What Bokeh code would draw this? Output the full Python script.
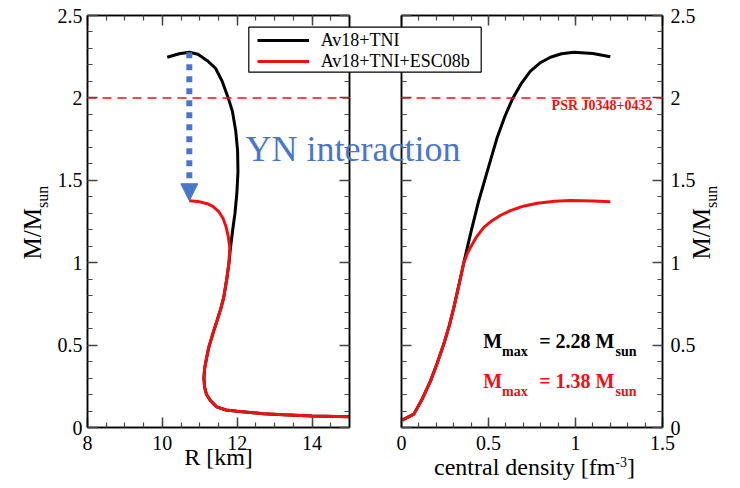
import numpy as np
from bokeh.plotting import figure
from bokeh.models import (Range1d, LinearAxis, FixedTicker, CustomJSTickFormatter, Span,
                          Label, Legend, LegendItem, Arrow, NormalHead, GridBox, BoxAnnotation)
from bokeh.embed import file_html
from bokeh.resources import INLINE

# ---------------- data ----------------
# Left panel: mass (M_sun) vs radius (km)
r_nuc = [15.0, 14.0, 13.24, 12.7, 12.35, 12.0, 11.7, 11.45, 11.29, 11.18,
         11.13, 11.11, 11.13, 11.18, 11.24, 11.35, 11.46, 11.56, 11.64, 11.72,
         11.78, 11.82, 11.88, 11.94, 11.99, 12.02, 12.01, 11.96, 11.87, 11.76,
         11.6, 11.42, 11.2, 10.95, 10.72, 10.45, 10.13]
m_nuc_r = [0.065, 0.070, 0.077, 0.084, 0.091, 0.098, 0.106, 0.125, 0.162, 0.200,
           0.243, 0.300, 0.360, 0.420, 0.486, 0.570, 0.648, 0.720, 0.790, 0.900,
           1.000, 1.090, 1.200, 1.300, 1.420, 1.550, 1.680, 1.800, 1.920, 2.000,
           2.100, 2.180, 2.226, 2.265, 2.277, 2.268, 2.247]
r_hyp = [15.0, 14.0, 13.24, 12.7, 12.35, 12.0, 11.7, 11.45, 11.29, 11.18,
         11.13, 11.11, 11.13, 11.18, 11.24, 11.35, 11.46, 11.56, 11.64, 11.72,
         11.78, 11.80, 11.76, 11.70, 11.62, 11.50, 11.35, 11.20, 10.95, 10.72]
m_hyp_r = [0.065, 0.070, 0.077, 0.084, 0.091, 0.098, 0.106, 0.125, 0.162, 0.200,
           0.243, 0.300, 0.360, 0.420, 0.486, 0.570, 0.648, 0.720, 0.790, 0.900,
           1.000, 1.093, 1.160, 1.220, 1.270, 1.312, 1.342, 1.358, 1.372, 1.376]

# Right panel: mass (M_sun) vs central density (fm^-3)
n_nuc = [0.004, 0.071, 0.12, 0.167, 0.205, 0.243, 0.275, 0.301, 0.33, 0.358,
         0.40, 0.444, 0.50, 0.55, 0.595, 0.636, 0.69, 0.741, 0.80, 0.856,
         0.92, 0.99, 1.10, 1.20]
m_nuc_n = [0.045, 0.081, 0.175, 0.283, 0.39, 0.506, 0.62, 0.729, 0.865, 1.0,
           1.19, 1.376, 1.58, 1.76, 1.89, 1.99, 2.09, 2.163, 2.215, 2.247,
           2.268, 2.277, 2.27, 2.25]
n_hyp = [0.004, 0.071, 0.12, 0.167, 0.205, 0.243, 0.275, 0.301, 0.33, 0.358,
         0.38, 0.40, 0.43, 0.473, 0.52, 0.57, 0.626, 0.70, 0.78, 0.88,
         0.971, 1.10, 1.20]
m_hyp_n = [0.045, 0.081, 0.175, 0.283, 0.39, 0.506, 0.62, 0.729, 0.865, 1.0,
           1.06, 1.10, 1.155, 1.214, 1.255, 1.288, 1.316, 1.343, 1.361, 1.373,
           1.377, 1.375, 1.37]

psr_mass = 2.0
series_labels = ["Av18+TNI", "Av18+TNI+ESC08b"]

r_major = [8, 10, 12, 14]
n_major = [0, 0.5, 1, 1.5]
m_major = [0, 0.5, 1, 1.5, 2, 2.5]

# ---------------- style / layout ----------------
BLACK = "#000000"
RED = "#ee1111"
BLUE = "#4a76c9"
FONT = "Liberation Serif"

W, H = 740, 488
TOP, FH = 15, 412
L_LEFT, L_FW = 87, 262
R_LEFT, R_FW = 401, 261

# page-pixel -> data helpers for in-panel text placement
def rx(px):
    return (px - R_LEFT) * 1.5 / R_FW

def yy(py):
    return (TOP + FH - py) * 2.5 / FH


def style_axis(ax, ticker, labels=True, standoff=8):
    ax.ticker = ticker
    ax.formatter = CustomJSTickFormatter(code="return String(tick);" if labels else "return '';")
    ax.major_tick_in = 10
    ax.major_tick_out = 0
    ax.minor_tick_in = 5
    ax.minor_tick_out = 0
    ax.major_tick_line_color = "#444444"
    ax.minor_tick_line_color = "#444444"
    ax.major_tick_line_width = 1.5
    ax.minor_tick_line_width = 1.2
    ax.axis_line_color = "black"
    ax.axis_line_width = 1.5
    ax.major_label_text_font = FONT
    ax.major_label_text_font_size = "20px" if labels else "0px"
    ax.major_label_text_color = "black"
    ax.major_label_standoff = standoff if labels else 0
    ax.axis_label = None


x_tick_l = FixedTicker(ticks=r_major, minor_ticks=list(np.arange(8, 15.01, 0.5)))
x_tick_r = FixedTicker(ticks=n_major, minor_ticks=list(np.round(np.arange(0, 1.501, 0.1), 2)))
y_tick = FixedTicker(ticks=m_major, minor_ticks=list(np.round(np.arange(0, 2.501, 0.1), 2)))

# ---------------- right panel (bottom layer) ----------------
p2 = figure(width=W, height=H, x_range=Range1d(0, 1.5), y_range=Range1d(0, 2.5),
            y_axis_location="right", output_backend="svg", toolbar_location=None,
            min_border_left=R_LEFT, min_border_right=W - R_LEFT - R_FW,
            min_border_top=TOP, min_border_bottom=H - TOP - FH, frame_align=False)
p2.grid.visible = False
p2.outline_line_color = "black"
p2.outline_line_width = 1.5
p2.border_fill_color = "white"
style_axis(p2.xaxis[0], x_tick_r, True, 8)
style_axis(p2.yaxis[0], y_tick, True, 8)
a = LinearAxis(); style_axis(a, x_tick_r, False); p2.add_layout(a, "above")
a = LinearAxis(); style_axis(a, y_tick, False); p2.add_layout(a, "left")

p2.add_layout(Span(location=psr_mass, dimension="width", line_color=RED,
                   line_dash="9 6", line_width=1.5))
p2.line(n_nuc, m_nuc_n, line_color=BLACK, line_width=3)
p2.line(n_hyp, m_hyp_n, line_color=RED, line_width=3)

p2.add_layout(Label(x=rx(652), y=yy(112), text="PSR J0348+0432", text_align="right",
                    text_font=FONT, text_font_size="14px", text_font_style="bold",
                    text_color=RED))

for mval, col, base in [(max(m_nuc_n), BLACK, 351), (max(m_hyp_n), RED, 391)]:
    p2.add_layout(Label(x=rx(482.7), y=yy(base), text="M", text_font=FONT,
                        text_font_size="20px", text_font_style="bold", text_color=col))
    p2.add_layout(Label(x=rx(501.5), y=yy(base + 7), text="max", text_font=FONT,
                        text_font_size="14px", text_font_style="bold", text_color=col))
    p2.add_layout(Label(x=rx(614), y=yy(base), text="= %.2f M" % mval, text_align="right",
                        text_font=FONT, text_font_size="20px", text_font_style="bold",
                        text_color=col))
    p2.add_layout(Label(x=rx(615), y=yy(base + 7), text="sun", text_font=FONT,
                        text_font_size="14px", text_font_style="bold", text_color=col))

# ---------------- left panel (middle layer, transparent border) ----------------
p1 = figure(width=W, height=H, x_range=Range1d(8, 15), y_range=Range1d(0, 2.5),
            output_backend="svg", toolbar_location=None,
            min_border_left=L_LEFT, min_border_right=W - L_LEFT - L_FW,
            min_border_top=TOP, min_border_bottom=H - TOP - FH, frame_align=False)
p1.grid.visible = False
p1.outline_line_color = "black"
p1.outline_line_width = 1.5
p1.border_fill_color = None
p1.background_fill_color = "white"
style_axis(p1.xaxis[0], x_tick_l, True, 8)
style_axis(p1.yaxis[0], y_tick, True, 5)
a = LinearAxis(); style_axis(a, x_tick_l, False); p1.add_layout(a, "above")
a = LinearAxis(); style_axis(a, y_tick, False); p1.add_layout(a, "right")

p1.add_layout(Span(location=psr_mass, dimension="width", line_color=RED,
                   line_dash="9 6", line_width=1.5))
p1.line(r_nuc, m_nuc_r, line_color=BLACK, line_width=3)
p1.line(r_hyp, m_hyp_r, line_color=RED, line_width=3)

i_max = int(np.argmax(m_nuc_r))
p1.add_layout(Arrow(end=NormalHead(size=17, fill_color=BLUE, line_color=BLUE),
                    x_start=r_nuc[i_max], y_start=m_nuc_r[i_max],
                    x_end=r_nuc[i_max], y_end=max(m_hyp_r),
                    line_color=BLUE, line_width=6, line_dash="6 6"))

# ---------------- text overlay (top layer, whole canvas, page-pixel coords) ----------------
p3 = figure(width=W, height=H, x_range=Range1d(0, W), y_range=Range1d(H, 0),
            x_axis_location=None, y_axis_location=None,
            output_backend="svg", toolbar_location=None, min_border=0,
            min_border_left=0, min_border_right=0, min_border_top=0, min_border_bottom=0,
            frame_align=False)
p3.grid.visible = False
p3.outline_line_color = None
p3.background_fill_color = None
p3.border_fill_color = None

# legend frame and legend (proxy renderers carry only the line style)
p3.add_layout(BoxAnnotation(left=248.3, right=480.7, top=26.7, bottom=71.7,
                            fill_color="white", fill_alpha=1.0,
                            line_color="black", line_alpha=1.0, line_width=1.2))
proxy_nuc = p3.line(x=[np.nan], y=[np.nan], line_color=BLACK, line_width=3)
proxy_hyp = p3.line(x=[np.nan], y=[np.nan], line_color=RED, line_width=3)
legend = Legend(items=[LegendItem(label=series_labels[0], renderers=[proxy_nuc]),
                       LegendItem(label=series_labels[1], renderers=[proxy_hyp])],
                location=(256.7, H - 71.5), margin=0, padding=0, spacing=-8,
                glyph_width=52, glyph_height=16, label_height=16,
                label_standoff=12, label_text_font=FONT, label_text_font_size="18px",
                label_text_color="black",
                border_line_color=None, background_fill_alpha=0.0)
p3.add_layout(legend)

p3.add_layout(Label(x=245, y=168, text="YN interaction", text_font=FONT,
                    text_font_size="36px", text_color=BLUE))

# axis titles
p3.add_layout(Label(x=218, y=469, text="R [km]", text_align="center",
                    text_font=FONT, text_font_size="24px", text_color="black"))
p3.add_layout(Label(x=614.8, y=479, text="central density [fm", text_align="right",
                    text_font=FONT, text_font_size="24px", text_color="black"))
p3.add_layout(Label(x=614.8, y=466, text="-3", text_font=FONT,
                    text_font_size="14px", text_color="black"))
p3.add_layout(Label(x=626.5, y=479, text="]", text_font=FONT,
                    text_font_size="24px", text_color="black"))
for bx in (45, 714):
    p3.add_layout(Label(x=bx, y=207.5, text="M/M", angle=90, angle_units="deg",
                        text_align="right", text_font=FONT, text_font_size="25px",
                        text_color="black"))
    p3.add_layout(Label(x=bx + 5, y=207.5, text="sun", angle=90, angle_units="deg",
                        text_align="left", text_font=FONT, text_font_size="16px",
                        text_color="black"))

layout = GridBox(children=[(p2, 0, 0), (p1, 0, 0), (p3, 0, 0)])

open("out.html", "w").write(file_html(layout, INLINE))
